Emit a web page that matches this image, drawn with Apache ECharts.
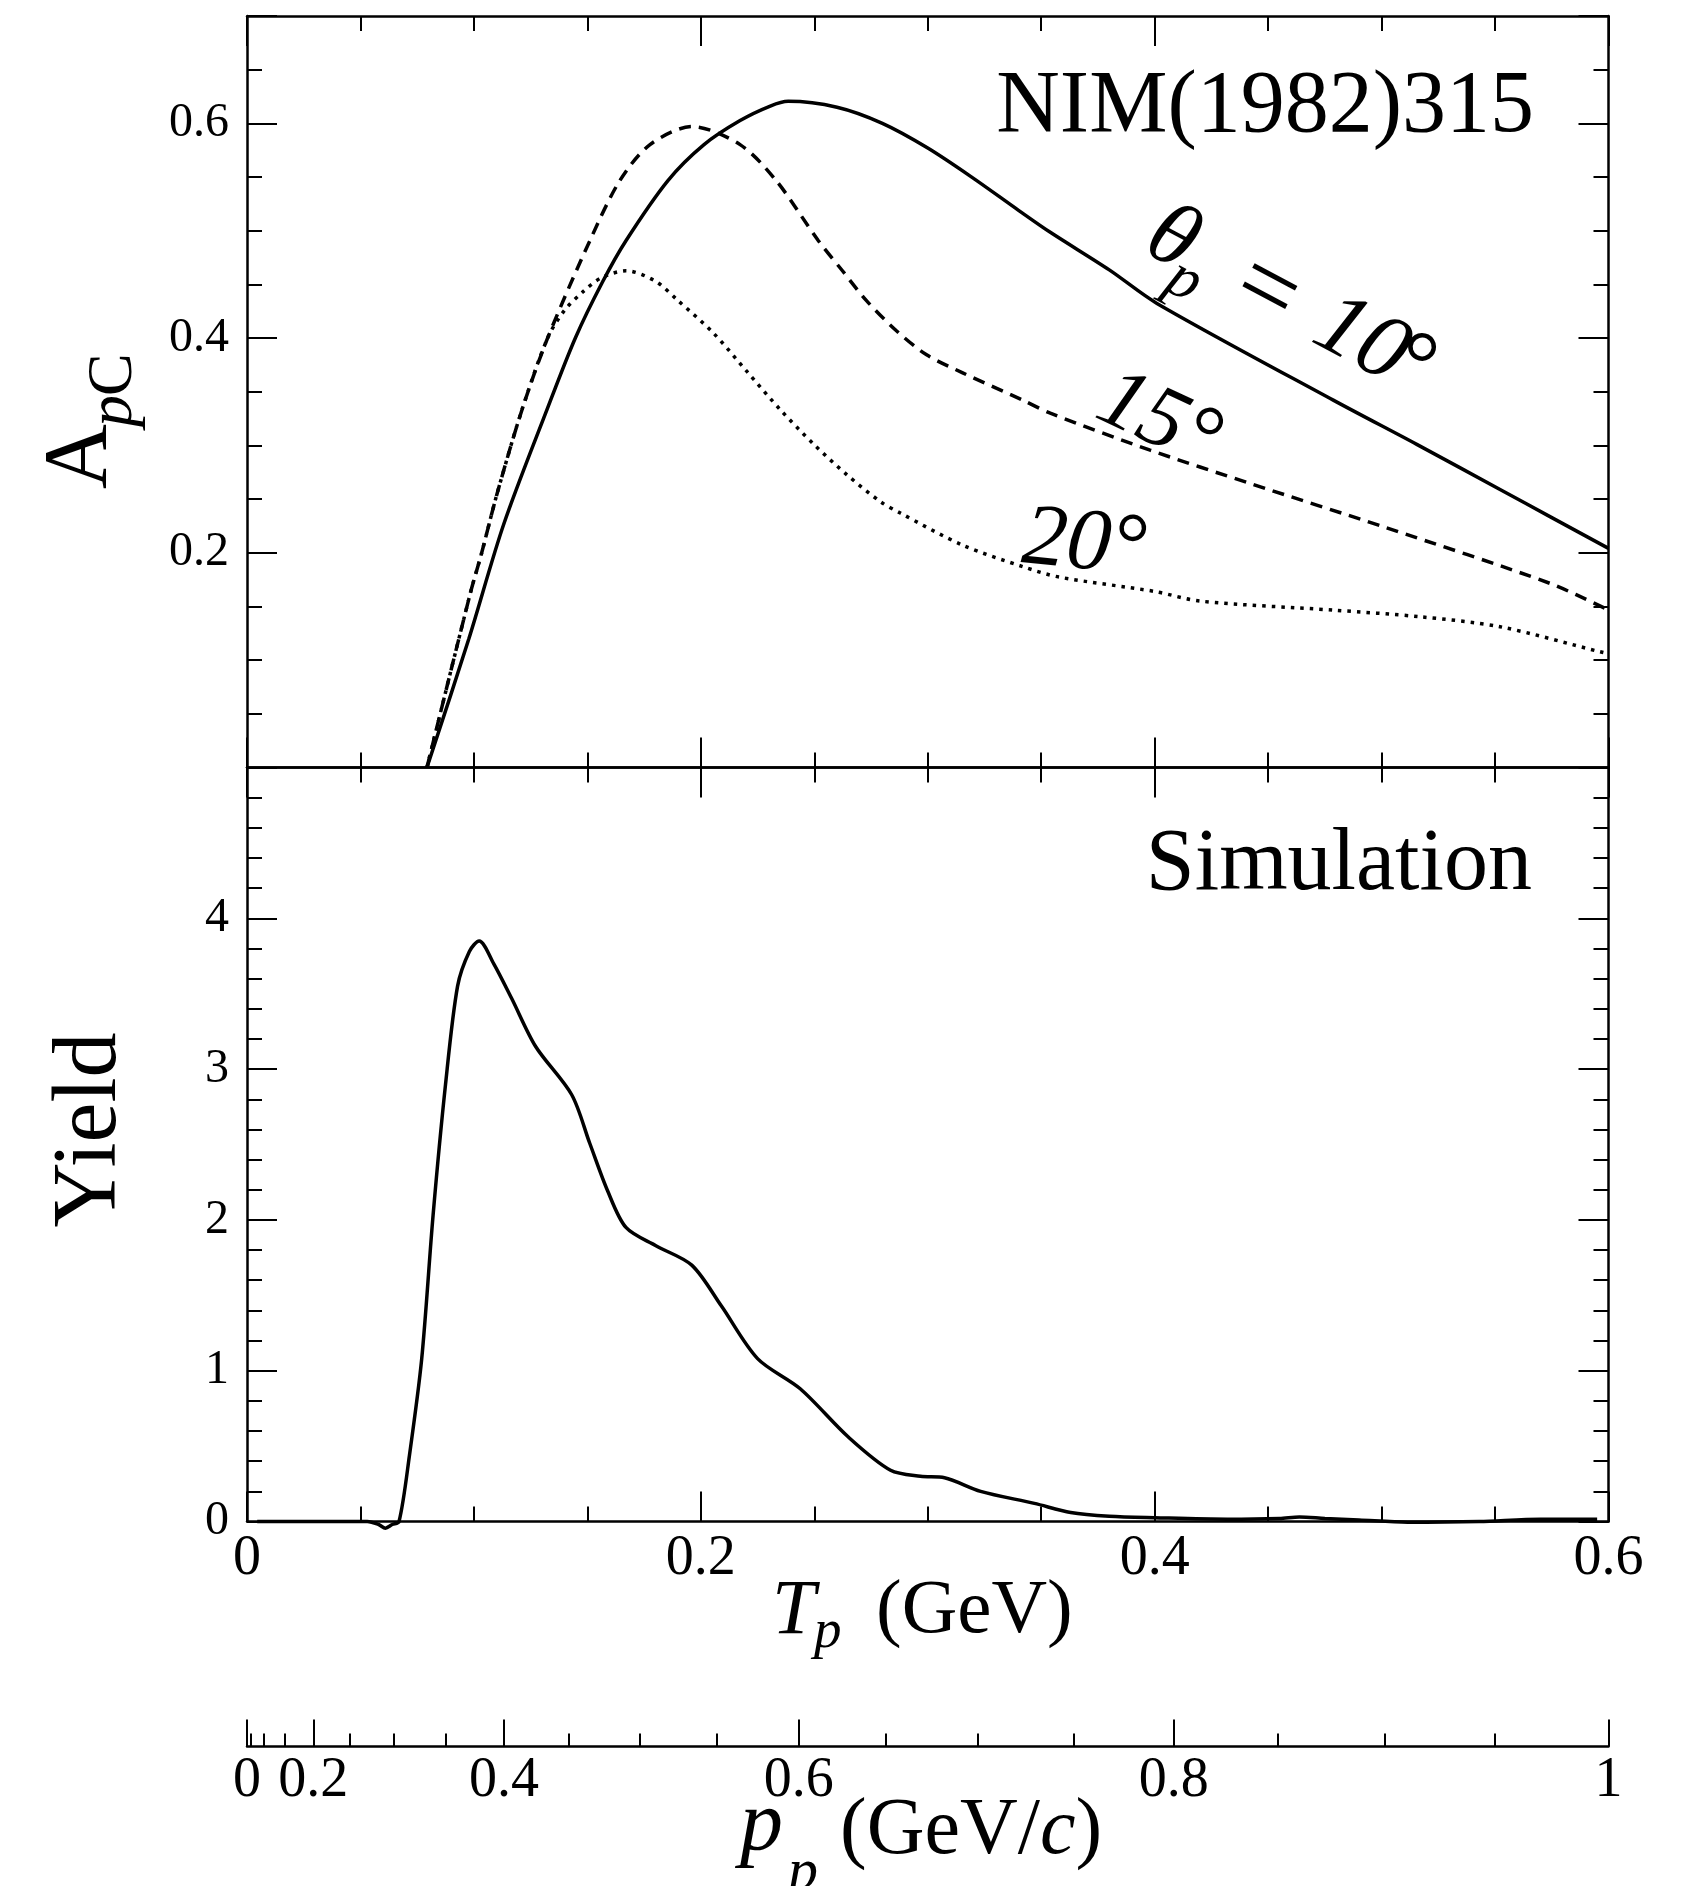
<!DOCTYPE html>
<html>
<head>
<meta charset="utf-8">
<script src="https://cdn.jsdelivr.net/npm/echarts@6/dist/echarts.min.js"></script>
<style>
html,body{margin:0;padding:0;background:#fff;}
#c{width:1685px;height:1886px;}
</style>
</head>
<body>
<div id="c"></div>
<script>
// ---------------- data ----------------
// Top panel: analysing power A_pC vs T_p (GeV)
const tA10 = [0.0793, 0.0977, 0.1131, 0.1322, 0.1447, 0.1566, 0.167, 0.1855, 0.2014, 0.2173, 0.2306, 0.2385, 0.260, 0.280, 0.300, 0.320, 0.340, 0.354, 0.380, 0.401, 0.4787, 0.5155, 0.5522, 0.5742, 0.600];
const A10  = [0.000, 0.1194, 0.2263, 0.3333, 0.4001, 0.4520, 0.4907, 0.5467, 0.5802, 0.6026, 0.6161, 0.6205, 0.615, 0.600, 0.577, 0.549, 0.519, 0.4985, 0.4635, 0.4323, 0.3422, 0.3010, 0.2590, 0.2337, 0.2041];

const tA15 = [0.0793, 0.0984, 0.1034, 0.1102, 0.1212, 0.1325, 0.1511, 0.1643, 0.1776, 0.1961, 0.2173, 0.2332, 0.2518, 0.2624, 0.273, 0.2862, 0.2995, 0.3154, 0.342, 0.354, 0.398, 0.442, 0.5008, 0.5742, 0.600];
const A15  = [0.000, 0.1622, 0.1998, 0.2550, 0.3333, 0.4001, 0.4907, 0.5467, 0.5802, 0.5970, 0.5802, 0.5467, 0.4907, 0.4627, 0.4349, 0.4068, 0.3844, 0.3676, 0.3420, 0.3300, 0.2956, 0.2646, 0.2242, 0.1715, 0.1466];

const tA20 = [0.0793, 0.0984, 0.1034, 0.1102, 0.1212, 0.1325, 0.1400, 0.1480, 0.1560, 0.1670, 0.1800, 0.1897, 0.2056, 0.2203, 0.235, 0.2497, 0.2644, 0.2791, 0.2879, 0.3155, 0.342, 0.3578, 0.400, 0.420, 0.4787, 0.517, 0.5522, 0.5963, 0.600];
const A20  = [0.000, 0.1622, 0.1998, 0.2550, 0.3333, 0.4001, 0.4260, 0.4430, 0.4560, 0.4627, 0.4530, 0.4354, 0.4045, 0.3689, 0.3333, 0.3012, 0.2726, 0.2477, 0.2370, 0.2070, 0.1870, 0.1774, 0.1640, 0.1550, 0.1466, 0.1404, 0.1311, 0.1078, 0.1060];

// Bottom panel: simulated yield vs T_p (GeV)
const tYield = [0.0045, 0.030, 0.053, 0.058, 0.061, 0.064, 0.067, 0.0716, 0.077, 0.082, 0.0875, 0.0928, 0.098, 0.1023, 0.1087, 0.1166, 0.1272, 0.1431, 0.151, 0.159, 0.167, 0.180, 0.196, 0.209, 0.225, 0.2438, 0.265, 0.2836, 0.2968, 0.3074, 0.3233, 0.347, 0.363, 0.380, 0.400, 0.432, 0.455, 0.4638, 0.475, 0.490, 0.5115, 0.543, 0.570, 0.595];
const yieldVals = [0.000, 0.000, 0.000, -0.02, -0.044, -0.02, 0.00, 0.44, 1.08, 2.03, 2.90, 3.55, 3.78, 3.85, 3.70, 3.47, 3.15, 2.83, 2.51, 2.19, 1.95, 1.83, 1.70, 1.43, 1.08, 0.88, 0.56, 0.34, 0.30, 0.29, 0.20, 0.12, 0.06, 0.035, 0.025, 0.015, 0.02, 0.03, 0.02, 0.01, -0.005, 0.00, 0.015, 0.015];

// Secondary momentum axis p_p (GeV/c): tick values
const pMajor = [0, 0.2, 0.4, 0.6, 0.8, 1.0];
const pMinor = [0.05, 0.1, 0.15, 0.25, 0.3, 0.35, 0.45, 0.5, 0.55, 0.65, 0.7, 0.75, 0.85, 0.9, 0.95];

// ---------------- chart ----------------
const M = 0.938272;                       // proton mass (GeV), axis conversion only
const TofP = p => Math.sqrt(p * p + M * M) - M;
const PofT = t => Math.sqrt((t + M) * (t + M) - M * M);

const FONT = "'Liberation Serif','Times New Roman',serif";
const BLK = '#000';
const axLine = { color: BLK, width: 2.5 };
const tkLine = { color: BLK, width: 2 };

const L = 247, W = 1361.5;
const grids = [
  { left: L, top: 16, width: W, height: 751.5 },
  { left: L, top: 767.5, width: W, height: 754 },
  { left: L, top: 1700, width: W, height: 46.5 }
].map(g => Object.assign(g, { containLabel: false, outerBoundsMode: 'none', show: false }));

function mkX(grid, pos, labels) {
  return {
    type: 'value', gridIndex: grid, position: pos, min: 0, max: 0.6, interval: 0.2,
    axisLine: { show: true, onZero: false, lineStyle: axLine },
    axisTick: { show: true, inside: true, length: 30, lineStyle: tkLine },
    minorTick: { show: true, splitNumber: 4, length: 15, lineStyle: tkLine },
    splitLine: { show: false }, minorSplitLine: { show: false },
    axisLabel: { show: labels, fontFamily: FONT, fontSize: 56, color: BLK, margin: 10,
      formatter: v => (Math.abs(v) < 1e-9 ? '0' : String(+v.toFixed(1))) }
  };
}
function mkY(grid, pos, min, max, interval, split, labelSet) {
  return {
    type: 'value', gridIndex: grid, position: pos, min: min, max: max, interval: interval,
    axisLine: { show: true, onZero: false, lineStyle: axLine },
    axisTick: { show: true, inside: true, length: 30, lineStyle: tkLine },
    minorTick: { show: true, splitNumber: split, length: 15, lineStyle: tkLine },
    splitLine: { show: false }, minorSplitLine: { show: false },
    axisLabel: { show: !!labelSet, fontFamily: FONT, fontSize: 48, color: BLK, margin: 18,
      formatter: v => {
        if (!labelSet) return '';
        const hit = labelSet.find(s => Math.abs(s - v) < 1e-9);
        return hit === undefined ? '' : String(hit);
      } }
  };
}

const Tmax = TofP(1);
const xAxes = [
  mkX(0, 'bottom', false),
  mkX(0, 'top', false),
  mkX(1, 'bottom', true),
  mkX(1, 'top', false),
  {
    type: 'value', gridIndex: 2, position: 'bottom', min: 0, max: Tmax,
    axisLine: { show: true, onZero: false, lineStyle: axLine },
    axisTick: { show: true, inside: true, length: 27, lineStyle: tkLine, customValues: pMajor.map(TofP) },
    splitLine: { show: false },
    axisLabel: { show: true, fontFamily: FONT, fontSize: 56, color: BLK, margin: 7,
      customValues: pMajor.map(TofP),
      formatter: v => String(Math.round(PofT(v) * 100) / 100) }
  },
  {
    type: 'value', gridIndex: 2, position: 'bottom', min: 0, max: Tmax,
    axisLine: { show: false },
    axisTick: { show: true, inside: true, length: 13, lineStyle: tkLine, customValues: pMinor.map(TofP) },
    splitLine: { show: false },
    axisLabel: { show: false }
  }
];
const yAxes = [
  mkY(0, 'left', 0, 0.7, 0.2, 4, [0.2, 0.4, 0.6]),
  mkY(0, 'right', 0, 0.7, 0.2, 4, null),
  mkY(1, 'left', 0, 5, 1, 5, [0, 1, 2, 3, 4]),
  mkY(1, 'right', 0, 5, 1, 5, null),
  { type: 'value', gridIndex: 2, show: false, min: 0, max: 1 }
];

const zip = (a, b) => a.map((v, i) => [v, b[i]]);
function lineSeries(name, xs, ys, xi, yi, dash, clip) {
  return {
    name, type: 'line', xAxisIndex: xi, yAxisIndex: yi, data: zip(xs, ys),
    showSymbol: false, symbol: 'none', smooth: 0.3, animation: false, silent: true, clip: clip,
    lineStyle: { color: BLK, width: 3.5, type: dash, cap: 'butt' }
  };
}

const base = { fontFamily: FONT, fill: BLK };
function txt(x, y, text, size, extra) {
  return { type: 'text', x, y, silent: true,
    style: Object.assign({ text, fontSize: size, align: 'center', verticalAlign: 'middle',
      textAlign: 'center', textVerticalAlign: 'middle' }, base, extra || {}) };
}
const ital = { fontStyle: 'italic' };
const left = { align: 'left', textAlign: 'left' };

const graphic = [
  txt(1534, 108, 'NIM(1982)315', 88, { align: 'right', textAlign: 'right' }),
  txt(1532, 866, 'Simulation', 88, { align: 'right', textAlign: 'right' }),
  { type: 'group', x: 1172, y: 240, rotation: -0.489, silent: true, children: [
    txt(0, 0, 'θ', 90, ital),
    txt(30, 31, 'p', 62, ital),
    txt(108, 2, '=', 104),
    txt(214, 0, '10', 92, ital),
    txt(271, 0, '°', 92)
  ] },
  { type: 'group', x: 1158, y: 421, rotation: -0.436, silent: true, children: [
    txt(0, 0, '15°', 88, ital)
  ] },
  { type: 'group', x: 1084, y: 545, rotation: -0.10, silent: true, children: [
    txt(0, 0, '20°', 88, ital)
  ] },
  { type: 'group', x: 112, y: 489, rotation: Math.PI / 2, silent: true, children: [
    txt(0, -30, 'A', 90, left),
    txt(62, 2, 'p', 64, Object.assign({}, left, ital)),
    txt(93, 2, 'C', 64, left)
  ] },
  { type: 'group', x: 122, y: 1130, rotation: Math.PI / 2, silent: true, children: [
    txt(0, -31, 'Yield', 90)
  ] },
  txt(772, 1612, 'T', 78, Object.assign({}, left, ital)),
  txt(814, 1633, 'p', 55, Object.assign({}, left, ital)),
  txt(876, 1612, '(GeV)', 77, left),
  txt(740, 1826, 'p', 86, Object.assign({}, left, ital)),
  txt(788, 1873, 'p', 60, Object.assign({}, left, ital)),
  { type: 'text', x: 840, y: 1832, silent: true,
    style: { text: '{u|(GeV/}{i|c}{u|)}', align: 'left', textAlign: 'left', verticalAlign: 'middle', textVerticalAlign: 'middle',
      rich: { u: { fontFamily: FONT, fontSize: 80, color: BLK },
              i: { fontFamily: FONT, fontSize: 80, fontStyle: 'italic', color: BLK } } } }
];

const option = {
  backgroundColor: '#fff',
  animation: false,
  grid: grids,
  xAxis: xAxes,
  yAxis: yAxes,
  series: [
    lineSeries('10°', tA10, A10, 0, 0, 'solid', true),
    lineSeries('15°', tA15, A15, 0, 0, [12, 8], true),
    lineSeries('20°', tA20, A20, 0, 0, [3.5, 6], true),
    lineSeries('Yield', tYield, yieldVals, 2, 2, 'solid', false)
  ],
  graphic: graphic
};

const chart = echarts.init(document.getElementById('c'), null, { renderer: 'canvas' });
chart.setOption(option);
</script>
</body>
</html>
